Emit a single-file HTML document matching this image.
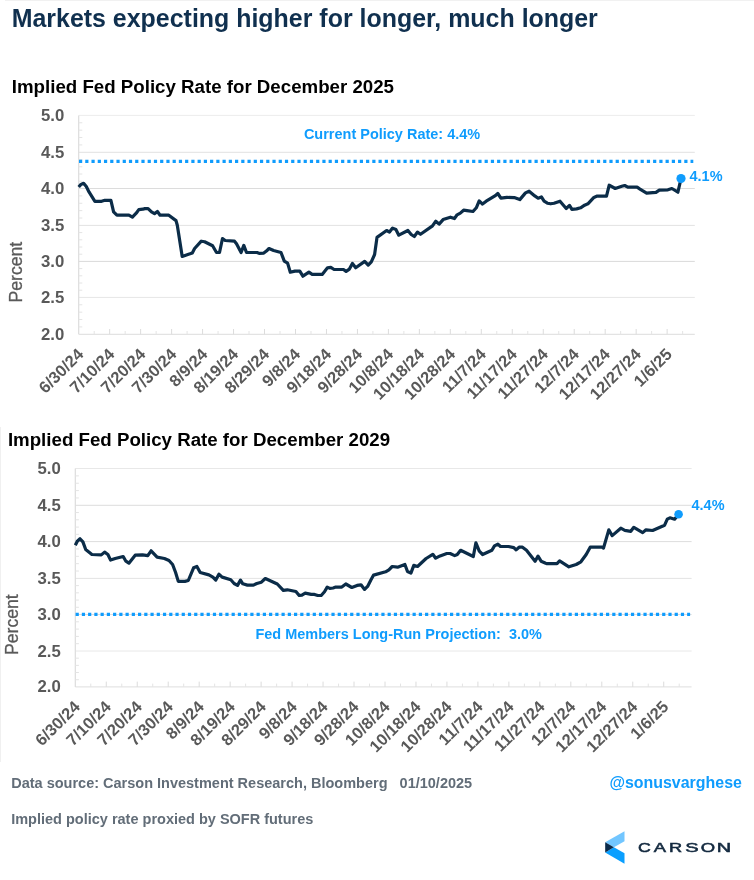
<!DOCTYPE html>
<html><head><meta charset="utf-8"><title>Markets expecting higher for longer</title>
<style>
html,body{margin:0;padding:0;background:#fff;}
body{width:754px;height:880px;overflow:hidden;font-family:"Liberation Sans",sans-serif;}
svg{display:block;will-change:transform;}
text{font-family:"Liberation Sans",sans-serif;font-weight:bold;}
.t1{font-size:24.95px;fill:#10304f;}
.t2{font-size:18.7px;fill:#000;}
.ax{font-size:16.4px;fill:#595959;}
.pc{font-size:17.6px;fill:#595959;font-weight:normal;stroke:#595959;stroke-width:0.3px;}
.bl{font-size:15.5px;fill:#0f9cfd;}
.ft{font-size:14.5px;fill:#626d78;}
.tw{font-size:15.95px;fill:#0f9cfd;}
.cs{font-size:13.45px;fill:#13293f;font-weight:normal;stroke:#13293f;stroke-width:0.55px;}
</style></head>
<body>
<svg width="754" height="880" viewBox="0 0 754 880">
<rect x="0" y="0" width="754" height="880" fill="#ffffff"/>
<text x="11.7" y="26.8" class="t1">Markets expecting higher for longer, much longer</text>
<text x="11.8" y="92.7" class="t2">Implied Fed Policy Rate for December 2025</text>
<line x1="78.7" y1="115.40" x2="694.8" y2="115.40" stroke="#ececec" stroke-width="1"/>
<line x1="78.7" y1="152.30" x2="694.8" y2="152.30" stroke="#e2e2e2" stroke-width="1"/>
<line x1="78.7" y1="188.50" x2="694.8" y2="188.50" stroke="#dcdcdc" stroke-width="1"/>
<line x1="78.7" y1="225.40" x2="694.8" y2="225.40" stroke="#e2e2e2" stroke-width="1"/>
<line x1="78.7" y1="261.40" x2="694.8" y2="261.40" stroke="#d9d9d9" stroke-width="1"/>
<line x1="78.7" y1="297.40" x2="694.8" y2="297.40" stroke="#e6e6e6" stroke-width="1"/>
<line x1="78.7" y1="334.30" x2="694.8" y2="334.30" stroke="#dddddd" stroke-width="1"/>
<line x1="78.7" y1="115.40" x2="78.7" y2="334.30" stroke="#dcdcdc" stroke-width="1.2"/>
<line x1="78.7" y1="122.78" x2="82.30" y2="122.78" stroke="#e4e4e4" stroke-width="1"/>
<line x1="78.7" y1="130.16" x2="82.30" y2="130.16" stroke="#e4e4e4" stroke-width="1"/>
<line x1="78.7" y1="137.54" x2="82.30" y2="137.54" stroke="#e4e4e4" stroke-width="1"/>
<line x1="78.7" y1="144.92" x2="82.30" y2="144.92" stroke="#e4e4e4" stroke-width="1"/>
<line x1="78.7" y1="159.54" x2="82.30" y2="159.54" stroke="#e4e4e4" stroke-width="1"/>
<line x1="78.7" y1="166.78" x2="82.30" y2="166.78" stroke="#e4e4e4" stroke-width="1"/>
<line x1="78.7" y1="174.02" x2="82.30" y2="174.02" stroke="#e4e4e4" stroke-width="1"/>
<line x1="78.7" y1="181.26" x2="82.30" y2="181.26" stroke="#e4e4e4" stroke-width="1"/>
<line x1="78.7" y1="195.88" x2="82.30" y2="195.88" stroke="#e4e4e4" stroke-width="1"/>
<line x1="78.7" y1="203.26" x2="82.30" y2="203.26" stroke="#e4e4e4" stroke-width="1"/>
<line x1="78.7" y1="210.64" x2="82.30" y2="210.64" stroke="#e4e4e4" stroke-width="1"/>
<line x1="78.7" y1="218.02" x2="82.30" y2="218.02" stroke="#e4e4e4" stroke-width="1"/>
<line x1="78.7" y1="232.60" x2="82.30" y2="232.60" stroke="#e4e4e4" stroke-width="1"/>
<line x1="78.7" y1="239.80" x2="82.30" y2="239.80" stroke="#e4e4e4" stroke-width="1"/>
<line x1="78.7" y1="247.00" x2="82.30" y2="247.00" stroke="#e4e4e4" stroke-width="1"/>
<line x1="78.7" y1="254.20" x2="82.30" y2="254.20" stroke="#e4e4e4" stroke-width="1"/>
<line x1="78.7" y1="268.60" x2="82.30" y2="268.60" stroke="#e4e4e4" stroke-width="1"/>
<line x1="78.7" y1="275.80" x2="82.30" y2="275.80" stroke="#e4e4e4" stroke-width="1"/>
<line x1="78.7" y1="283.00" x2="82.30" y2="283.00" stroke="#e4e4e4" stroke-width="1"/>
<line x1="78.7" y1="290.20" x2="82.30" y2="290.20" stroke="#e4e4e4" stroke-width="1"/>
<line x1="78.7" y1="304.78" x2="82.30" y2="304.78" stroke="#e4e4e4" stroke-width="1"/>
<line x1="78.7" y1="312.16" x2="82.30" y2="312.16" stroke="#e4e4e4" stroke-width="1"/>
<line x1="78.7" y1="319.54" x2="82.30" y2="319.54" stroke="#e4e4e4" stroke-width="1"/>
<line x1="78.7" y1="326.92" x2="82.30" y2="326.92" stroke="#e4e4e4" stroke-width="1"/>
<line x1="94.19" y1="334.30" x2="94.19" y2="331.00" stroke="#e4e4e4" stroke-width="1"/>
<line x1="109.67" y1="334.30" x2="109.67" y2="329.00" stroke="#dcdcdc" stroke-width="1"/>
<line x1="125.16" y1="334.30" x2="125.16" y2="331.00" stroke="#e4e4e4" stroke-width="1"/>
<line x1="140.64" y1="334.30" x2="140.64" y2="329.00" stroke="#dcdcdc" stroke-width="1"/>
<line x1="156.12" y1="334.30" x2="156.12" y2="331.00" stroke="#e4e4e4" stroke-width="1"/>
<line x1="171.61" y1="334.30" x2="171.61" y2="329.00" stroke="#dcdcdc" stroke-width="1"/>
<line x1="187.09" y1="334.30" x2="187.09" y2="331.00" stroke="#e4e4e4" stroke-width="1"/>
<line x1="202.58" y1="334.30" x2="202.58" y2="329.00" stroke="#dcdcdc" stroke-width="1"/>
<line x1="218.06" y1="334.30" x2="218.06" y2="331.00" stroke="#e4e4e4" stroke-width="1"/>
<line x1="233.55" y1="334.30" x2="233.55" y2="329.00" stroke="#dcdcdc" stroke-width="1"/>
<line x1="249.03" y1="334.30" x2="249.03" y2="331.00" stroke="#e4e4e4" stroke-width="1"/>
<line x1="264.52" y1="334.30" x2="264.52" y2="329.00" stroke="#dcdcdc" stroke-width="1"/>
<line x1="280.00" y1="334.30" x2="280.00" y2="331.00" stroke="#e4e4e4" stroke-width="1"/>
<line x1="295.49" y1="334.30" x2="295.49" y2="329.00" stroke="#dcdcdc" stroke-width="1"/>
<line x1="310.97" y1="334.30" x2="310.97" y2="331.00" stroke="#e4e4e4" stroke-width="1"/>
<line x1="326.46" y1="334.30" x2="326.46" y2="329.00" stroke="#dcdcdc" stroke-width="1"/>
<line x1="341.94" y1="334.30" x2="341.94" y2="331.00" stroke="#e4e4e4" stroke-width="1"/>
<line x1="357.43" y1="334.30" x2="357.43" y2="329.00" stroke="#dcdcdc" stroke-width="1"/>
<line x1="372.91" y1="334.30" x2="372.91" y2="331.00" stroke="#e4e4e4" stroke-width="1"/>
<line x1="388.40" y1="334.30" x2="388.40" y2="329.00" stroke="#dcdcdc" stroke-width="1"/>
<line x1="403.88" y1="334.30" x2="403.88" y2="331.00" stroke="#e4e4e4" stroke-width="1"/>
<line x1="419.37" y1="334.30" x2="419.37" y2="329.00" stroke="#dcdcdc" stroke-width="1"/>
<line x1="434.85" y1="334.30" x2="434.85" y2="331.00" stroke="#e4e4e4" stroke-width="1"/>
<line x1="450.34" y1="334.30" x2="450.34" y2="329.00" stroke="#dcdcdc" stroke-width="1"/>
<line x1="465.82" y1="334.30" x2="465.82" y2="331.00" stroke="#e4e4e4" stroke-width="1"/>
<line x1="481.31" y1="334.30" x2="481.31" y2="329.00" stroke="#dcdcdc" stroke-width="1"/>
<line x1="496.79" y1="334.30" x2="496.79" y2="331.00" stroke="#e4e4e4" stroke-width="1"/>
<line x1="512.28" y1="334.30" x2="512.28" y2="329.00" stroke="#dcdcdc" stroke-width="1"/>
<line x1="527.76" y1="334.30" x2="527.76" y2="331.00" stroke="#e4e4e4" stroke-width="1"/>
<line x1="543.25" y1="334.30" x2="543.25" y2="329.00" stroke="#dcdcdc" stroke-width="1"/>
<line x1="558.74" y1="334.30" x2="558.74" y2="331.00" stroke="#e4e4e4" stroke-width="1"/>
<line x1="574.22" y1="334.30" x2="574.22" y2="329.00" stroke="#dcdcdc" stroke-width="1"/>
<line x1="589.71" y1="334.30" x2="589.71" y2="331.00" stroke="#e4e4e4" stroke-width="1"/>
<line x1="605.19" y1="334.30" x2="605.19" y2="329.00" stroke="#dcdcdc" stroke-width="1"/>
<line x1="620.68" y1="334.30" x2="620.68" y2="331.00" stroke="#e4e4e4" stroke-width="1"/>
<line x1="636.16" y1="334.30" x2="636.16" y2="329.00" stroke="#dcdcdc" stroke-width="1"/>
<line x1="651.64" y1="334.30" x2="651.64" y2="331.00" stroke="#e4e4e4" stroke-width="1"/>
<line x1="667.13" y1="334.30" x2="667.13" y2="329.00" stroke="#dcdcdc" stroke-width="1"/>
<line x1="682.62" y1="334.30" x2="682.62" y2="331.00" stroke="#e4e4e4" stroke-width="1"/>
<text transform="translate(64.20,120.90) scale(1.022,1)" text-anchor="end" class="ax">5.0</text>
<text transform="translate(64.20,157.80) scale(1.022,1)" text-anchor="end" class="ax">4.5</text>
<text transform="translate(64.20,194.00) scale(1.022,1)" text-anchor="end" class="ax">4.0</text>
<text transform="translate(64.20,230.90) scale(1.022,1)" text-anchor="end" class="ax">3.5</text>
<text transform="translate(64.20,266.90) scale(1.022,1)" text-anchor="end" class="ax">3.0</text>
<text transform="translate(64.20,302.90) scale(1.022,1)" text-anchor="end" class="ax">2.5</text>
<text transform="translate(64.20,339.80) scale(1.022,1)" text-anchor="end" class="ax">2.0</text>
<text transform="translate(84.50,355.20) rotate(-45) scale(1.008,1)" text-anchor="end" class="ax">6/30/24</text>
<text transform="translate(115.47,355.20) rotate(-45) scale(1.008,1)" text-anchor="end" class="ax">7/10/24</text>
<text transform="translate(146.44,355.20) rotate(-45) scale(1.008,1)" text-anchor="end" class="ax">7/20/24</text>
<text transform="translate(177.41,355.20) rotate(-45) scale(1.008,1)" text-anchor="end" class="ax">7/30/24</text>
<text transform="translate(208.38,355.20) rotate(-45) scale(1.008,1)" text-anchor="end" class="ax">8/9/24</text>
<text transform="translate(239.35,355.20) rotate(-45) scale(1.008,1)" text-anchor="end" class="ax">8/19/24</text>
<text transform="translate(270.32,355.20) rotate(-45) scale(1.008,1)" text-anchor="end" class="ax">8/29/24</text>
<text transform="translate(301.29,355.20) rotate(-45) scale(1.008,1)" text-anchor="end" class="ax">9/8/24</text>
<text transform="translate(332.26,355.20) rotate(-45) scale(1.008,1)" text-anchor="end" class="ax">9/18/24</text>
<text transform="translate(363.23,355.20) rotate(-45) scale(1.008,1)" text-anchor="end" class="ax">9/28/24</text>
<text transform="translate(394.20,355.20) rotate(-45) scale(1.008,1)" text-anchor="end" class="ax">10/8/24</text>
<text transform="translate(425.17,355.20) rotate(-45) scale(1.008,1)" text-anchor="end" class="ax">10/18/24</text>
<text transform="translate(456.14,355.20) rotate(-45) scale(1.008,1)" text-anchor="end" class="ax">10/28/24</text>
<text transform="translate(487.11,355.20) rotate(-45) scale(1.008,1)" text-anchor="end" class="ax">11/7/24</text>
<text transform="translate(518.08,355.20) rotate(-45) scale(1.008,1)" text-anchor="end" class="ax">11/17/24</text>
<text transform="translate(549.05,355.20) rotate(-45) scale(1.008,1)" text-anchor="end" class="ax">11/27/24</text>
<text transform="translate(580.02,355.20) rotate(-45) scale(1.008,1)" text-anchor="end" class="ax">12/7/24</text>
<text transform="translate(610.99,355.20) rotate(-45) scale(1.008,1)" text-anchor="end" class="ax">12/17/24</text>
<text transform="translate(641.96,355.20) rotate(-45) scale(1.008,1)" text-anchor="end" class="ax">12/27/24</text>
<text transform="translate(672.93,355.20) rotate(-45) scale(1.008,1)" text-anchor="end" class="ax">1/6/25</text>
<text transform="translate(21.80,302.40) rotate(-90)" class="pc">Percent</text>
<line x1="79.00" y1="161.35" x2="693.30" y2="161.35" stroke="#0f9cfd" stroke-width="3.1" stroke-dasharray="3.2 3.04"/>
<path d="M78.7,187.0 L81.0,184.4 L83.6,183.3 L86.3,186.6 L89.0,191.9 L94.9,201.3 L101.6,201.3 L104.9,200.3 L110.9,200.3 L113.6,211.9 L116.9,215.2 L128.9,215.2 L132.4,217.2 L136.2,213.2 L138.8,209.6 L142.8,209.2 L144.8,208.6 L148.1,208.6 L151.5,211.9 L154.5,213.6 L157.4,211.5 L160.1,215.2 L168.8,215.2 L176.0,220.6 L177.3,225.2 L182.2,256.5 L190.0,253.8 L192.3,252.9 L194.6,248.5 L201.3,241.2 L204.6,241.8 L212.6,245.8 L216.5,252.5 L219.5,252.5 L222.5,238.5 L225.2,240.5 L234.5,241.2 L236.5,243.8 L241.1,252.5 L243.8,245.4 L246.5,252.5 L257.1,252.5 L259.1,253.4 L263.8,253.1 L266.4,251.1 L269.0,248.5 L273.6,250.5 L281.0,252.5 L284.3,261.1 L287.6,263.1 L290.3,272.2 L294.9,271.1 L299.8,271.1 L302.9,276.2 L308.9,272.2 L312.2,274.4 L322.2,274.4 L327.5,267.8 L330.8,267.4 L334.1,269.5 L343.5,269.5 L346.1,271.4 L349.4,269.1 L352.4,263.4 L355.7,267.8 L364.7,261.4 L368.2,265.1 L371.3,261.8 L374.6,254.5 L377.0,237.4 L386.6,230.5 L389.5,232.1 L392.6,228.1 L395.9,229.5 L398.8,235.2 L407.9,230.5 L411.2,234.5 L414.3,236.5 L417.4,232.1 L420.5,234.3 L432.5,225.9 L435.8,221.2 L439.1,224.1 L443.1,219.6 L450.4,217.2 L454.4,218.6 L457.1,214.8 L460.3,213.1 L463.6,210.2 L467.0,210.7 L473.0,211.5 L476.3,207.8 L479.2,200.9 L482.5,204.1 L486.2,201.2 L494.9,195.9 L497.8,193.5 L500.9,198.2 L506.9,197.4 L514.2,197.6 L519.8,199.6 L525.5,192.9 L529.1,191.2 L534.8,195.9 L538.1,198.2 L541.4,196.9 L544.1,201.2 L547.4,203.2 L550.7,203.8 L554.0,203.2 L560.0,201.2 L566.2,208.5 L569.5,205.4 L571.9,209.4 L576.6,208.9 L580.6,207.8 L584.6,205.2 L587.9,203.8 L593.9,197.4 L597.2,196.1 L606.5,196.1 L609.2,185.2 L615.2,188.5 L621.8,186.3 L624.7,185.5 L627.8,187.2 L637.1,187.2 L640.0,189.1 L646.6,193.1 L656.0,192.4 L659.3,190.2 L667.9,189.8 L671.9,188.5 L677.9,192.2 L680.6,180.5 L681.0,178.5" fill="none" stroke="#0b2c48" stroke-width="3.2" stroke-linejoin="round" stroke-linecap="butt"/>
<circle cx="681" cy="178.5" r="4.6" fill="#0f9cfd"/>
<text transform="translate(689.5,181.2) scale(0.935,1)" class="bl">4.1%</text>
<text transform="translate(303.9,139.3) scale(0.935,1)" class="bl" xml:space="preserve">Current Policy Rate: 4.4%</text>
<text x="7.9" y="445.8" class="t2">Implied Fed Policy Rate for December 2029</text>
<line x1="75.3" y1="468.50" x2="691.6" y2="468.50" stroke="#e8e8e8" stroke-width="1"/>
<line x1="75.3" y1="505.30" x2="691.6" y2="505.30" stroke="#dddddd" stroke-width="1"/>
<line x1="75.3" y1="541.60" x2="691.6" y2="541.60" stroke="#dddddd" stroke-width="1"/>
<line x1="75.3" y1="578.40" x2="691.6" y2="578.40" stroke="#e3e3e3" stroke-width="1"/>
<line x1="75.3" y1="614.50" x2="691.6" y2="614.50" stroke="#dddddd" stroke-width="1"/>
<line x1="75.3" y1="651.00" x2="691.6" y2="651.00" stroke="#e8e8e8" stroke-width="1"/>
<line x1="75.3" y1="686.90" x2="691.6" y2="686.90" stroke="#dfdfdf" stroke-width="1"/>
<line x1="75.3" y1="468.50" x2="75.3" y2="686.90" stroke="#dcdcdc" stroke-width="1.2"/>
<line x1="75.3" y1="475.86" x2="78.90" y2="475.86" stroke="#e4e4e4" stroke-width="1"/>
<line x1="75.3" y1="483.22" x2="78.90" y2="483.22" stroke="#e4e4e4" stroke-width="1"/>
<line x1="75.3" y1="490.58" x2="78.90" y2="490.58" stroke="#e4e4e4" stroke-width="1"/>
<line x1="75.3" y1="497.94" x2="78.90" y2="497.94" stroke="#e4e4e4" stroke-width="1"/>
<line x1="75.3" y1="512.56" x2="78.90" y2="512.56" stroke="#e4e4e4" stroke-width="1"/>
<line x1="75.3" y1="519.82" x2="78.90" y2="519.82" stroke="#e4e4e4" stroke-width="1"/>
<line x1="75.3" y1="527.08" x2="78.90" y2="527.08" stroke="#e4e4e4" stroke-width="1"/>
<line x1="75.3" y1="534.34" x2="78.90" y2="534.34" stroke="#e4e4e4" stroke-width="1"/>
<line x1="75.3" y1="548.96" x2="78.90" y2="548.96" stroke="#e4e4e4" stroke-width="1"/>
<line x1="75.3" y1="556.32" x2="78.90" y2="556.32" stroke="#e4e4e4" stroke-width="1"/>
<line x1="75.3" y1="563.68" x2="78.90" y2="563.68" stroke="#e4e4e4" stroke-width="1"/>
<line x1="75.3" y1="571.04" x2="78.90" y2="571.04" stroke="#e4e4e4" stroke-width="1"/>
<line x1="75.3" y1="585.62" x2="78.90" y2="585.62" stroke="#e4e4e4" stroke-width="1"/>
<line x1="75.3" y1="592.84" x2="78.90" y2="592.84" stroke="#e4e4e4" stroke-width="1"/>
<line x1="75.3" y1="600.06" x2="78.90" y2="600.06" stroke="#e4e4e4" stroke-width="1"/>
<line x1="75.3" y1="607.28" x2="78.90" y2="607.28" stroke="#e4e4e4" stroke-width="1"/>
<line x1="75.3" y1="621.80" x2="78.90" y2="621.80" stroke="#e4e4e4" stroke-width="1"/>
<line x1="75.3" y1="629.10" x2="78.90" y2="629.10" stroke="#e4e4e4" stroke-width="1"/>
<line x1="75.3" y1="636.40" x2="78.90" y2="636.40" stroke="#e4e4e4" stroke-width="1"/>
<line x1="75.3" y1="643.70" x2="78.90" y2="643.70" stroke="#e4e4e4" stroke-width="1"/>
<line x1="75.3" y1="658.18" x2="78.90" y2="658.18" stroke="#e4e4e4" stroke-width="1"/>
<line x1="75.3" y1="665.36" x2="78.90" y2="665.36" stroke="#e4e4e4" stroke-width="1"/>
<line x1="75.3" y1="672.54" x2="78.90" y2="672.54" stroke="#e4e4e4" stroke-width="1"/>
<line x1="75.3" y1="679.72" x2="78.90" y2="679.72" stroke="#e4e4e4" stroke-width="1"/>
<line x1="90.78" y1="686.90" x2="90.78" y2="683.60" stroke="#e4e4e4" stroke-width="1"/>
<line x1="106.27" y1="686.90" x2="106.27" y2="681.60" stroke="#dcdcdc" stroke-width="1"/>
<line x1="121.75" y1="686.90" x2="121.75" y2="683.60" stroke="#e4e4e4" stroke-width="1"/>
<line x1="137.24" y1="686.90" x2="137.24" y2="681.60" stroke="#dcdcdc" stroke-width="1"/>
<line x1="152.72" y1="686.90" x2="152.72" y2="683.60" stroke="#e4e4e4" stroke-width="1"/>
<line x1="168.21" y1="686.90" x2="168.21" y2="681.60" stroke="#dcdcdc" stroke-width="1"/>
<line x1="183.69" y1="686.90" x2="183.69" y2="683.60" stroke="#e4e4e4" stroke-width="1"/>
<line x1="199.18" y1="686.90" x2="199.18" y2="681.60" stroke="#dcdcdc" stroke-width="1"/>
<line x1="214.67" y1="686.90" x2="214.67" y2="683.60" stroke="#e4e4e4" stroke-width="1"/>
<line x1="230.15" y1="686.90" x2="230.15" y2="681.60" stroke="#dcdcdc" stroke-width="1"/>
<line x1="245.63" y1="686.90" x2="245.63" y2="683.60" stroke="#e4e4e4" stroke-width="1"/>
<line x1="261.12" y1="686.90" x2="261.12" y2="681.60" stroke="#dcdcdc" stroke-width="1"/>
<line x1="276.61" y1="686.90" x2="276.61" y2="683.60" stroke="#e4e4e4" stroke-width="1"/>
<line x1="292.09" y1="686.90" x2="292.09" y2="681.60" stroke="#dcdcdc" stroke-width="1"/>
<line x1="307.57" y1="686.90" x2="307.57" y2="683.60" stroke="#e4e4e4" stroke-width="1"/>
<line x1="323.06" y1="686.90" x2="323.06" y2="681.60" stroke="#dcdcdc" stroke-width="1"/>
<line x1="338.55" y1="686.90" x2="338.55" y2="683.60" stroke="#e4e4e4" stroke-width="1"/>
<line x1="354.03" y1="686.90" x2="354.03" y2="681.60" stroke="#dcdcdc" stroke-width="1"/>
<line x1="369.51" y1="686.90" x2="369.51" y2="683.60" stroke="#e4e4e4" stroke-width="1"/>
<line x1="385.00" y1="686.90" x2="385.00" y2="681.60" stroke="#dcdcdc" stroke-width="1"/>
<line x1="400.49" y1="686.90" x2="400.49" y2="683.60" stroke="#e4e4e4" stroke-width="1"/>
<line x1="415.97" y1="686.90" x2="415.97" y2="681.60" stroke="#dcdcdc" stroke-width="1"/>
<line x1="431.45" y1="686.90" x2="431.45" y2="683.60" stroke="#e4e4e4" stroke-width="1"/>
<line x1="446.94" y1="686.90" x2="446.94" y2="681.60" stroke="#dcdcdc" stroke-width="1"/>
<line x1="462.43" y1="686.90" x2="462.43" y2="683.60" stroke="#e4e4e4" stroke-width="1"/>
<line x1="477.91" y1="686.90" x2="477.91" y2="681.60" stroke="#dcdcdc" stroke-width="1"/>
<line x1="493.39" y1="686.90" x2="493.39" y2="683.60" stroke="#e4e4e4" stroke-width="1"/>
<line x1="508.88" y1="686.90" x2="508.88" y2="681.60" stroke="#dcdcdc" stroke-width="1"/>
<line x1="524.37" y1="686.90" x2="524.37" y2="683.60" stroke="#e4e4e4" stroke-width="1"/>
<line x1="539.85" y1="686.90" x2="539.85" y2="681.60" stroke="#dcdcdc" stroke-width="1"/>
<line x1="555.33" y1="686.90" x2="555.33" y2="683.60" stroke="#e4e4e4" stroke-width="1"/>
<line x1="570.82" y1="686.90" x2="570.82" y2="681.60" stroke="#dcdcdc" stroke-width="1"/>
<line x1="586.30" y1="686.90" x2="586.30" y2="683.60" stroke="#e4e4e4" stroke-width="1"/>
<line x1="601.79" y1="686.90" x2="601.79" y2="681.60" stroke="#dcdcdc" stroke-width="1"/>
<line x1="617.27" y1="686.90" x2="617.27" y2="683.60" stroke="#e4e4e4" stroke-width="1"/>
<line x1="632.76" y1="686.90" x2="632.76" y2="681.60" stroke="#dcdcdc" stroke-width="1"/>
<line x1="648.24" y1="686.90" x2="648.24" y2="683.60" stroke="#e4e4e4" stroke-width="1"/>
<line x1="663.73" y1="686.90" x2="663.73" y2="681.60" stroke="#dcdcdc" stroke-width="1"/>
<line x1="679.21" y1="686.90" x2="679.21" y2="683.60" stroke="#e4e4e4" stroke-width="1"/>
<text transform="translate(60.80,474.00) scale(1.022,1)" text-anchor="end" class="ax">5.0</text>
<text transform="translate(60.80,510.80) scale(1.022,1)" text-anchor="end" class="ax">4.5</text>
<text transform="translate(60.80,547.10) scale(1.022,1)" text-anchor="end" class="ax">4.0</text>
<text transform="translate(60.80,583.90) scale(1.022,1)" text-anchor="end" class="ax">3.5</text>
<text transform="translate(60.80,620.00) scale(1.022,1)" text-anchor="end" class="ax">3.0</text>
<text transform="translate(60.80,656.50) scale(1.022,1)" text-anchor="end" class="ax">2.5</text>
<text transform="translate(60.80,692.40) scale(1.022,1)" text-anchor="end" class="ax">2.0</text>
<text transform="translate(81.10,707.80) rotate(-45) scale(1.008,1)" text-anchor="end" class="ax">6/30/24</text>
<text transform="translate(112.07,707.80) rotate(-45) scale(1.008,1)" text-anchor="end" class="ax">7/10/24</text>
<text transform="translate(143.04,707.80) rotate(-45) scale(1.008,1)" text-anchor="end" class="ax">7/20/24</text>
<text transform="translate(174.01,707.80) rotate(-45) scale(1.008,1)" text-anchor="end" class="ax">7/30/24</text>
<text transform="translate(204.98,707.80) rotate(-45) scale(1.008,1)" text-anchor="end" class="ax">8/9/24</text>
<text transform="translate(235.95,707.80) rotate(-45) scale(1.008,1)" text-anchor="end" class="ax">8/19/24</text>
<text transform="translate(266.92,707.80) rotate(-45) scale(1.008,1)" text-anchor="end" class="ax">8/29/24</text>
<text transform="translate(297.89,707.80) rotate(-45) scale(1.008,1)" text-anchor="end" class="ax">9/8/24</text>
<text transform="translate(328.86,707.80) rotate(-45) scale(1.008,1)" text-anchor="end" class="ax">9/18/24</text>
<text transform="translate(359.83,707.80) rotate(-45) scale(1.008,1)" text-anchor="end" class="ax">9/28/24</text>
<text transform="translate(390.80,707.80) rotate(-45) scale(1.008,1)" text-anchor="end" class="ax">10/8/24</text>
<text transform="translate(421.77,707.80) rotate(-45) scale(1.008,1)" text-anchor="end" class="ax">10/18/24</text>
<text transform="translate(452.74,707.80) rotate(-45) scale(1.008,1)" text-anchor="end" class="ax">10/28/24</text>
<text transform="translate(483.71,707.80) rotate(-45) scale(1.008,1)" text-anchor="end" class="ax">11/7/24</text>
<text transform="translate(514.68,707.80) rotate(-45) scale(1.008,1)" text-anchor="end" class="ax">11/17/24</text>
<text transform="translate(545.65,707.80) rotate(-45) scale(1.008,1)" text-anchor="end" class="ax">11/27/24</text>
<text transform="translate(576.62,707.80) rotate(-45) scale(1.008,1)" text-anchor="end" class="ax">12/7/24</text>
<text transform="translate(607.59,707.80) rotate(-45) scale(1.008,1)" text-anchor="end" class="ax">12/17/24</text>
<text transform="translate(638.56,707.80) rotate(-45) scale(1.008,1)" text-anchor="end" class="ax">12/27/24</text>
<text transform="translate(669.53,707.80) rotate(-45) scale(1.008,1)" text-anchor="end" class="ax">1/6/25</text>
<text transform="translate(18.40,655.00) rotate(-90)" class="pc">Percent</text>
<line x1="75.60" y1="614.4" x2="690.10" y2="614.4" stroke="#0f9cfd" stroke-width="3.1" stroke-dasharray="3.2 3.04"/>
<path d="M75.3,545.2 L77.3,541.2 L80.0,538.8 L82.9,541.9 L85.7,549.5 L91.9,554.5 L101.3,554.9 L104.6,552.1 L107.9,554.5 L110.6,560.1 L115.2,558.5 L123.2,556.5 L125.9,561.2 L128.9,563.2 L135.2,555.2 L142.5,554.8 L147.8,555.6 L151.1,550.8 L157.1,557.2 L164.4,558.5 L169.0,560.5 L172.6,564.5 L175.6,572.5 L178.3,581.4 L184.9,581.4 L188.3,580.5 L193.6,567.8 L196.9,566.5 L200.2,572.5 L208.9,574.9 L212.9,577.1 L215.8,580.1 L218.9,574.2 L222.2,577.1 L230.8,579.8 L234.1,583.5 L237.5,585.4 L240.5,580.1 L242.8,583.8 L247.4,585.1 L253.4,585.1 L256.8,583.5 L261.4,582.2 L265.3,578.5 L277.3,584.0 L283.3,590.4 L287.3,589.8 L295.9,591.5 L299.2,595.5 L301.9,595.1 L305.2,593.1 L311.2,594.4 L314.5,594.4 L317.8,595.5 L321.2,595.5 L324.5,591.8 L327.2,587.1 L329.8,588.4 L333.1,588.0 L335.8,587.1 L341.8,587.1 L345.8,584.0 L351.8,587.5 L357.1,585.4 L361.0,584.8 L364.6,589.4 L367.6,586.4 L371.0,579.8 L373.6,575.1 L385.6,571.8 L388.9,569.8 L392.2,566.5 L397.6,567.2 L404.9,564.5 L407.5,571.5 L410.9,573.1 L413.8,565.4 L417.5,566.5 L426.1,558.5 L432.8,554.3 L435.7,558.2 L440.1,555.9 L446.8,553.5 L450.1,553.5 L454.7,555.6 L457.3,554.5 L460.6,550.3 L473.3,556.5 L475.9,542.8 L479.3,551.2 L482.6,554.5 L491.9,550.3 L494.5,545.9 L497.9,544.1 L500.5,546.5 L508.5,546.5 L513.8,547.6 L516.1,549.9 L519.1,547.2 L522.5,547.2 L526.5,550.3 L535.1,561.2 L538.0,556.1 L541.1,561.2 L545.7,563.2 L547.0,563.6 L557.0,563.6 L559.6,560.9 L568.9,566.8 L576.2,564.5 L580.9,561.8 L586.2,554.5 L590.2,547.2 L602.2,547.2 L603.5,548.1 L608.8,529.9 L612.2,535.6 L620.8,528.2 L624.8,530.3 L630.8,531.3 L633.8,527.3 L642.7,532.6 L646.0,529.8 L652.6,530.5 L664.6,525.2 L667.3,519.2 L669.9,517.8 L674.6,519.2 L677.9,515.2 L678.6,514.3" fill="none" stroke="#0b2c48" stroke-width="3.2" stroke-linejoin="round" stroke-linecap="butt"/>
<circle cx="678.6" cy="514.3" r="4.3" fill="#0f9cfd"/>
<text transform="translate(691.5,509.5) scale(0.935,1)" class="bl">4.4%</text>
<text transform="translate(255.4,639.0) scale(0.935,1)" class="bl" xml:space="preserve">Fed Members Long-Run Projection:  3.0%</text>
<text x="11.2" y="788" class="ft" xml:space="preserve">Data source: Carson Investment Research, Bloomberg   01/10/2025</text>
<text x="11.2" y="824" class="ft">Implied policy rate proxied by SOFR futures</text>
<text x="609.4" y="788" class="tw">@sonusvarghese</text>
<polygon points="624.5,831.2 624.5,841.2 613.9,847.3 605.2,842.3" fill="#72c6ff"/>
<polygon points="605.2,852.4 613.9,847.3 624.5,853.2 624.5,863.8" fill="#0a9fff"/>
<polygon points="605.2,842.3 613.9,847.3 605.2,852.4" fill="#0b2a4a"/>
<text transform="translate(637.90,851.9) scale(1.316,1)" class="cs">C</text>
<text transform="translate(653.66,851.9) scale(1.368,1)" class="cs">A</text>
<text transform="translate(668.91,851.9) scale(1.354,1)" class="cs">R</text>
<text transform="translate(685.18,851.9) scale(1.487,1)" class="cs">S</text>
<text transform="translate(700.63,851.9) scale(1.372,1)" class="cs">O</text>
<text transform="translate(716.77,851.9) scale(1.476,1)" class="cs">N</text>
<line x1="0.5" y1="427" x2="0.5" y2="762" stroke="#f0f0f0" stroke-width="1"/>
<line x1="5" y1="0.5" x2="754" y2="0.5" stroke="#f1f1f1" stroke-width="1"/>
</svg>
</body></html>
